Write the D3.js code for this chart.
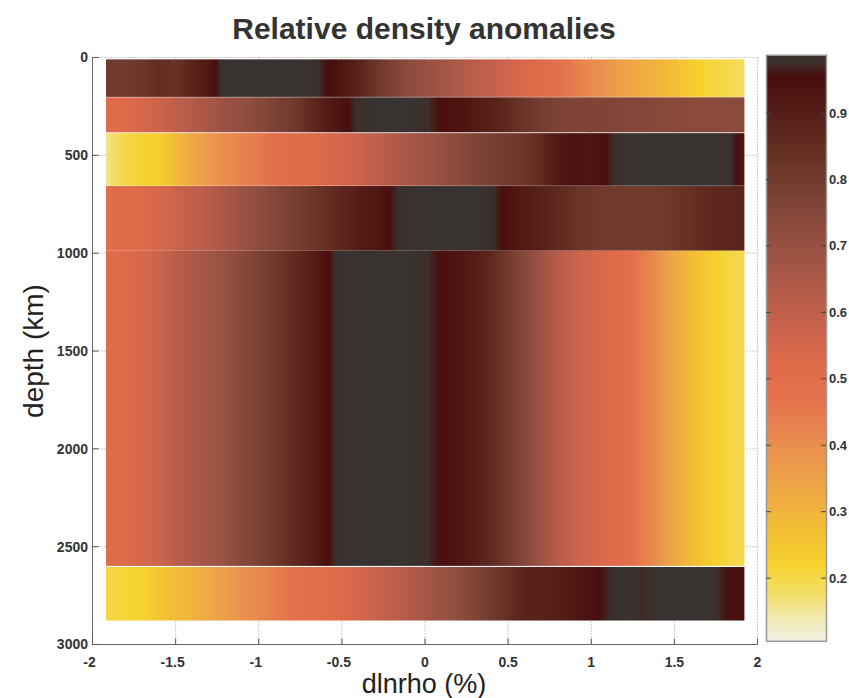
<!DOCTYPE html>
<html><head><meta charset="utf-8">
<script src="https://cdn.jsdelivr.net/npm/d3@7"></script>
<style>
html,body{margin:0;padding:0;background:#fff;overflow:hidden}
svg{display:block}
</style></head>
<body>
<svg id="chart" width="849" height="698"></svg>
<script>
// ---------- data ----------
const title = "Relative density anomalies";
const xLabel = "dlnrho (%)";
const yLabel = "depth (km)";
const xTicks = [-2, -1.5, -1, -0.5, 0, 0.5, 1, 1.5, 2];
const yTicks = [0, 500, 1000, 1500, 2000, 2500, 3000];
const cbTicks = [0.2, 0.3, 0.4, 0.5, 0.6, 0.7, 0.8, 0.9];
const cbRange = [0.105, 0.987];

// dlnrho sample positions (%)
const xGrid = [-1.92,-1.8,-1.7,-1.6,-1.5,-1.4,-1.3,-1.2,-1.1,-1.0,-0.9,-0.8,-0.7,-0.6,-0.5,-0.4,-0.3,-0.2,-0.1,0,
               0.1,0.2,0.3,0.4,0.5,0.6,0.7,0.8,0.9,1.0,1.1,1.2,1.3,1.4,1.5,1.6,1.7,1.8,1.92];

// depth layers (km)
const layerTop    = [10, 204, 387, 657, 988, 2604];
const layerBottom = [201, 382, 655, 987, 2598, 2877];

// relative density per layer, along xGrid
const layer1 = [0.80,0.80,0.82,0.85,0.83,0.88,0.92,1.00,1.00,1.00,1.00,1.00,1.00,0.96,0.93,0.88,0.82,0.77,0.73,0.70,
                0.67,0.64,0.61,0.59,0.56,0.53,0.51,0.49,0.44,0.41,0.38,0.35,0.32,0.30,0.27,0.24,0.21,0.20,0.18];
const layer2 = [0.50,0.52,0.54,0.57,0.60,0.63,0.66,0.69,0.71,0.74,0.77,0.80,0.85,0.90,0.94,0.98,1.00,1.00,1.00,0.98,
                0.95,0.94,0.91,0.89,0.86,0.82,0.79,0.77,0.76,0.76,0.76,0.75,0.75,0.74,0.74,0.73,0.73,0.73,0.73];
const layer3 = [0.16,0.20,0.22,0.23,0.28,0.33,0.37,0.40,0.43,0.45,0.49,0.51,0.52,0.53,0.55,0.57,0.60,0.63,0.66,0.68,
                0.71,0.73,0.76,0.78,0.80,0.82,0.86,0.92,0.94,0.93,0.96,1.00,1.00,1.00,1.00,1.00,1.00,1.00,0.93];
const layer4 = [0.50,0.51,0.52,0.54,0.57,0.60,0.62,0.65,0.69,0.72,0.75,0.78,0.81,0.84,0.87,0.90,0.92,0.96,1.00,1.00,
                1.00,1.00,1.00,0.98,0.94,0.91,0.89,0.86,0.83,0.81,0.80,0.80,0.80,0.80,0.82,0.84,0.86,0.87,0.88];
const layer5 = [0.50,0.52,0.54,0.57,0.61,0.64,0.67,0.70,0.74,0.77,0.81,0.85,0.89,0.94,1.00,1.00,1.00,1.00,1.00,0.98,
                0.95,0.93,0.90,0.86,0.80,0.74,0.68,0.62,0.58,0.55,0.52,0.50,0.45,0.39,0.33,0.28,0.24,0.21,0.19];
const layer6 = [0.20,0.21,0.22,0.25,0.28,0.30,0.33,0.36,0.39,0.41,0.44,0.47,0.49,0.50,0.52,0.55,0.58,0.60,0.63,0.66,
                0.69,0.72,0.76,0.80,0.84,0.88,0.89,0.90,0.92,0.94,0.97,1.00,0.97,1.00,1.00,1.00,1.00,0.96,0.94];

// colormap stops
const cmapValues = [0.10,0.14,0.18,0.22,0.27,0.32,0.37,0.42,0.47,0.52,0.57,0.62,0.67,0.72,0.77,0.82,0.87,0.92,0.955,0.975,1.0];
const cmapColors = ["#f2f1ec","#f0eab0","#f3dd60","#f6d22e","#f3bf35","#efac42","#eb9a4c","#e8864f","#e5714c","#df6a4a",
                    "#cc644c","#b75c4a","#a25546","#8f4d3e","#7c4234","#6b3528","#5c261d","#501713","#480f0e","#3c2e2b","#383230"];

// ---------- drawing ----------
const layers = [layer1, layer2, layer3, layer4, layer5, layer6];
const svg = d3.select("#chart");
const x = d3.scaleLinear().domain([-2, 2]).range([92.5, 757.5]);
const y = d3.scaleLinear().domain([0, 3000]).range([57.5, 644.5]);
const color = d3.scaleLinear().domain(cmapValues).range(cmapColors).interpolate(d3.interpolateRgb).clamp(true);
const font = "'Liberation Sans', Arial, sans-serif";

// grid (dotted)
const grid = svg.append("g").attr("stroke", "#9a9a9a").attr("stroke-width", 1).attr("stroke-dasharray", "1,2");
grid.selectAll("line.v").data(xTicks).join("line")
  .attr("x1", d => x(d)).attr("x2", d => x(d)).attr("y1", y(0)).attr("y2", y(3000));
grid.selectAll("line.h").data(yTicks).join("line")
  .attr("y1", d => y(d)).attr("y2", d => y(d)).attr("x1", x(-2)).attr("x2", x(2));

// layers
const gL = svg.append("g");
layers.forEach((vals, i) => {
  const interp = d3.scaleLinear().domain(xGrid).range(vals);
  const x0 = Math.round(x(xGrid[0])), x1 = Math.round(x(xGrid[xGrid.length - 1]));
  const cols = d3.range(x0, x1);
  gL.append("g").selectAll("rect").data(cols).join("rect")
    .attr("x", d => d).attr("width", 1.4)
    .attr("y", y(layerTop[i])).attr("height", y(layerBottom[i]) - y(layerTop[i]))
    .attr("fill", d => color(interp(x.invert(d + 0.5))));
});

// axes lines
svg.append("line").attr("x1", x(-2)).attr("x2", x(-2)).attr("y1", y(0)).attr("y2", y(3000)).attr("stroke", "#666");
svg.append("line").attr("x1", x(-2)).attr("x2", x(2)).attr("y1", y(3000)).attr("y2", y(3000)).attr("stroke", "#666");

// tick marks
svg.append("g").selectAll("line").data(yTicks).join("line")
  .attr("x1", x(-2)).attr("x2", x(-2) + 6).attr("y1", d => y(d)).attr("y2", d => y(d)).attr("stroke", "#555");
svg.append("g").selectAll("line").data(xTicks).join("line")
  .attr("y1", y(3000)).attr("y2", y(3000) - 6).attr("x1", d => x(d)).attr("x2", d => x(d)).attr("stroke", "#555");

// tick labels
svg.append("g").selectAll("text").data(yTicks).join("text")
  .attr("x", 88).attr("y", d => y(d)).attr("dy", "0.35em").attr("text-anchor", "end")
  .attr("font-family", font).attr("font-size", 14).attr("font-weight", "bold").attr("fill", "#333")
  .text(d => d);
svg.append("g").selectAll("text").data(xTicks).join("text")
  .attr("x", d => x(d) - (d < 0 ? 3 : 0)).attr("y", 662).attr("dy", "0.35em").attr("text-anchor", "middle")
  .attr("font-family", font).attr("font-size", 14).attr("font-weight", "bold").attr("fill", "#333")
  .text(d => d);

// titles
svg.append("text").attr("x", 424).attr("y", 39).attr("text-anchor", "middle")
  .attr("font-family", font).attr("font-size", 30).attr("font-weight", "bold").attr("fill", "#333").text(title);
svg.append("text").attr("x", 424).attr("y", 693).attr("text-anchor", "middle")
  .attr("font-family", font).attr("font-size", 27).attr("fill", "#222").text(xLabel);
svg.append("text").attr("transform", "translate(43,351) rotate(-90)").attr("text-anchor", "middle")
  .attr("font-family", font).attr("font-size", 28).attr("fill", "#222").text(yLabel);

// colorbar
const cb = d3.scaleLinear().domain([0.1, 1.0]).range([644.6, 46.6]);
const cbX = 766, cbW = 60;
const cbVals = d3.range(Math.round(cb(cbRange[1])), Math.round(cb(cbRange[0])));
svg.append("g").selectAll("rect").data(cbVals).join("rect")
  .attr("x", cbX).attr("width", cbW).attr("y", d => d).attr("height", 1.4)
  .attr("fill", d => color(cb.invert(d + 0.5)));
svg.append("rect").attr("x", cbX + 0.5).attr("y", cb(cbRange[1])).attr("width", cbW)
  .attr("height", cb(cbRange[0]) - cb(cbRange[1])).attr("fill", "none").attr("stroke", "#9a9a9a").attr("stroke-width", 1.5);
const cbT = svg.append("g").attr("stroke", "#444");
cbT.selectAll("line.l").data(cbTicks).join("line")
  .attr("x1", cbX).attr("x2", cbX + 5).attr("y1", d => cb(d)).attr("y2", d => cb(d));
cbT.selectAll("line.r").data(cbTicks).join("line")
  .attr("x1", cbX + cbW - 5).attr("x2", cbX + cbW).attr("y1", d => cb(d)).attr("y2", d => cb(d));
svg.append("g").selectAll("text").data(cbTicks).join("text")
  .attr("x", 829).attr("y", d => cb(d)).attr("dy", "0.35em")
  .attr("font-family", font).attr("font-size", 13).attr("font-weight", "bold").attr("fill", "#333")
  .text(d => d.toFixed(1));
</script>
</body></html>
